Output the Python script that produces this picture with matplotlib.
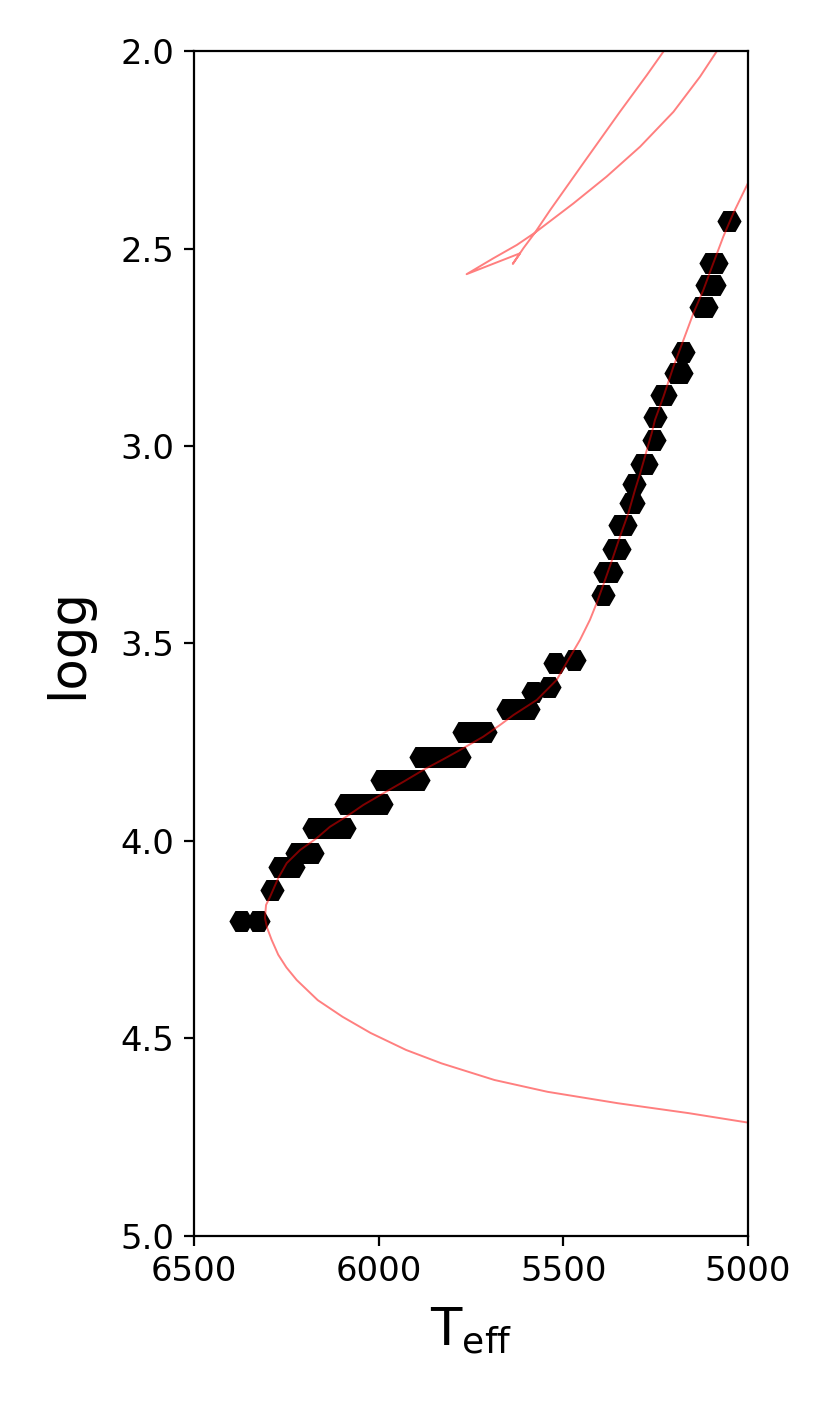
import matplotlib
matplotlib.use('Agg')
import matplotlib.pyplot as plt
import numpy as np

# observed stars (Teff, logg)
teff_obs = [6373, 6327,
            6289,
            6267, 6251, 6232,
            6221, 6202, 6181,
            6175, 6153, 6132, 6113, 6094,
            6088, 6069, 6051, 6032, 6013, 5994,
            5991, 5972, 5953, 5931, 5912, 5894,
            5885, 5864, 5845, 5823, 5804, 5783,
            5769, 5750, 5731, 5712,
            5650, 5631, 5615, 5596,
            5582, 5539,
            5522, 5471,
            5393,
            5387, 5371,
            5363, 5349,
            5346, 5333,
            5317, 5312,
            5310,
            5287, 5276,
            5255,
            5252,
            5233, 5225,
            5196, 5182,
            5177,
            5128, 5115,
            5112, 5091,
            5100, 5087,
            5051]
logg_obs = [4.202, 4.202,
            4.125,
            4.065, 4.065, 4.065,
            4.030, 4.030, 4.030,
            3.968, 3.968, 3.968, 3.968, 3.968,
            3.906, 3.906, 3.906, 3.906, 3.906, 3.906,
            3.846, 3.846, 3.846, 3.846, 3.846, 3.846,
            3.788, 3.788, 3.788, 3.788, 3.788, 3.788,
            3.725, 3.725, 3.725, 3.725,
            3.665, 3.665, 3.665, 3.665,
            3.623, 3.610,
            3.550, 3.541,
            3.377,
            3.320, 3.320,
            3.260, 3.260,
            3.200, 3.200,
            3.144, 3.144,
            3.096,
            3.045, 3.045,
            2.985,
            2.927,
            2.871, 2.871,
            2.816, 2.816,
            2.762,
            2.647, 2.647,
            2.592, 2.592,
            2.537, 2.537,
            2.430]

# isochrone: main sequence -> subgiant -> red giant branch
iso_teff = [5000, 5161, 5352, 5543, 5687, 5830, 5926, 6022, 6098, 6165,
            6222, 6250, 6272, 6290, 6302, 6308, 6305, 6294, 6272, 6249, 6213, 6168,
            6132, 6087, 6042, 5987, 5933, 5879, 5825, 5771, 5717, 5671,
            5635, 5572, 5518, 5487, 5455, 5428, 5410, 5387, 5365, 5347,
            5324, 5306, 5292, 5274, 5261, 5252, 5229, 5202, 5175, 5148,
            5121, 5094, 5067, 5040, 5000, 4968]
iso_logg = [4.713, 4.689, 4.664, 4.635, 4.605, 4.563, 4.529, 4.486, 4.445, 4.403,
            4.352, 4.320, 4.288, 4.250, 4.220, 4.195, 4.162, 4.141, 4.094, 4.056, 4.023, 3.993,
            3.964, 3.938, 3.909, 3.879, 3.850, 3.820, 3.793, 3.765, 3.736, 3.706,
            3.681, 3.643, 3.592, 3.542, 3.491, 3.440, 3.398, 3.339, 3.280, 3.230,
            3.170, 3.111, 3.069, 3.010, 2.968, 2.934, 2.875, 2.799, 2.732, 2.664,
            2.605, 2.537, 2.470, 2.411, 2.334, 2.263]

# isochrone: after the RGB tip (clump loop + AGB)
loop_teff = [5207, 5231, 5274, 5347, 5446, 5536, 5577, 5608, 5637, 5617,
             5762, 5690, 5626, 5577, 5473, 5383, 5292, 5202, 5130, 5087, 5064]
loop_logg = [1.972, 2.004, 2.061, 2.154, 2.284, 2.403, 2.460, 2.499, 2.539, 2.512,
             2.565, 2.525, 2.491, 2.460, 2.386, 2.318, 2.242, 2.154, 2.065, 2.004, 1.972]

fig = plt.figure(figsize=(4.16, 7.045), dpi=200)
ax = fig.add_axes([0.2332, 0.1228, 0.6659, 0.8410])

ax.plot(teff_obs, logg_obs, 'H', color='k', ms=7.8, mew=0.8)
ax.plot(iso_teff, iso_logg, color='red', alpha=0.5, lw=0.7)
ax.plot(loop_teff, loop_logg, color='red', alpha=0.5, lw=0.7)

ax.set_xlim(6500, 5000)
ax.set_ylim(5.0, 2.0)
ax.set_xticks([6500, 6000, 5500, 5000])
ax.set_yticks(np.arange(2.0, 5.01, 0.5))
ax.tick_params(labelsize=12.2)
ax.set_xlabel(r'$\mathrm{T_{eff}}$', fontsize=18.5, labelpad=6)
ax.set_ylabel('logg', fontsize=18.5, labelpad=10)

plt.savefig('out.png', dpi=200)
